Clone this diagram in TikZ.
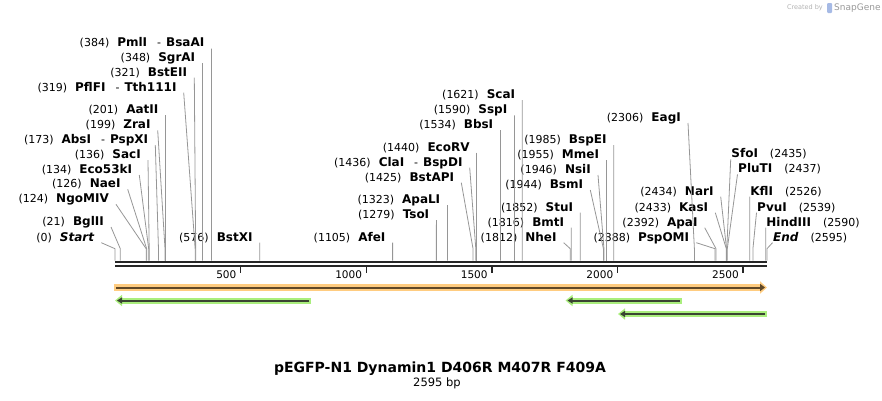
\documentclass[tikz,border=0pt]{standalone}
\usepackage{fontspec}
\setmainfont{DejaVu Sans}
\usetikzlibrary{arrows.meta}
\definecolor{cutgray}{RGB}{150,150,150}
\definecolor{bbone}{RGB}{38,38,38}
\definecolor{orgband}{RGB}{255,204,128}
\definecolor{orgline}{RGB}{96,72,40}
\definecolor{grnband}{RGB}{170,238,125}
\definecolor{grnline}{RGB}{58,68,50}
\newcommand{\enz}[1]{{\fontsize{12}{14}\selectfont\bfseries #1}}

\begin{document}
\begin{tikzpicture}[x=1pt,y=-1pt,font=\fontsize{11}{13}\selectfont,
  lab/.style={anchor=south east,inner xsep=7pt,inner ysep=1.5pt,text height=9pt,text depth=0pt},
  rlab/.style={anchor=south west,inner xsep=0.5pt,inner ysep=1.5pt,text height=9pt,text depth=0pt},
  cutln/.style={cutgray,line width=0.8pt},
  ticklab/.style={anchor=east,inner sep=0pt,font=\fontsize{10.5}{12}\selectfont},
  tickmk/.style={bbone,line width=1.5pt}]
\useasboundingbox (0,0) rectangle (882,400);

% backbone and scale
\draw[bbone,line width=2pt] (115,261.7) -- (767,261.7);
\draw[bbone,line width=2pt] (115,266) -- (767,266);
\draw[tickmk] (240.6,266) -- (240.6,273);
\draw[tickmk] (366.3,266) -- (366.3,273);
\draw[tickmk] (491.9,266) -- (491.9,273);
\draw[tickmk] (617.5,266) -- (617.5,273);
\draw[tickmk] (743.1,266) -- (743.1,273);
\node[ticklab] (t500) at (236.5,275) {500};
\node[ticklab] (t1000) at (362.2,275) {1000};
\node[ticklab] (t1500) at (487.8,275) {1500};
\node[ticklab] (t2000) at (613.4,275) {2000};
\node[ticklab] (t2500) at (739,275) {2500};

% features
\draw[orgband,line width=7pt,-{Triangle[length=7pt,width=12pt]}] (114,287.5) -- (767,287.5);
\draw[orgline,line width=2pt,-{Triangle[length=5pt,width=7pt]}] (116,287.5) -- (765,287.5);
\draw[grnband,line width=6pt,-{Triangle[length=7pt,width=11pt]}] (311,300.5) -- (115,300.5);
\draw[grnline,line width=2pt,-{Triangle[length=5pt,width=6pt]}] (309,300.5) -- (117,300.5);
\draw[grnband,line width=6pt,-{Triangle[length=7pt,width=11pt]}] (681.5,300.5) -- (565.5,300.5);
\draw[grnline,line width=2pt,-{Triangle[length=5pt,width=6pt]}] (679.5,300.5) -- (567.5,300.5);
\draw[grnband,line width=6pt,-{Triangle[length=7pt,width=11pt]}] (767,314) -- (618,314);
\draw[grnline,line width=2pt,-{Triangle[length=5pt,width=6pt]}] (765,314) -- (620,314);

% sites on the backbone
\coordinate (s0) at (115,260.7);
\coordinate (s21) at (120.28,260.7);
\coordinate (s124) at (146.16,260.7);
\coordinate (s126) at (146.66,260.7);
\coordinate (s134) at (148.67,260.7);
\coordinate (s136) at (149.17,260.7);
\coordinate (s173) at (158.47,260.7);
\coordinate (s199) at (165,260.7);
\coordinate (s201) at (165.5,260.7);
\coordinate (s319) at (195.15,260.7);
\coordinate (s321) at (195.65,260.7);
\coordinate (s348) at (202.44,260.7);
\coordinate (s384) at (211.48,260.7);
\coordinate (s576) at (259.72,260.7);
\coordinate (s1105) at (392.63,260.7);
\coordinate (s1279) at (436.35,260.7);
\coordinate (s1323) at (447.41,260.7);
\coordinate (s1425) at (473.03,260.7);
\coordinate (s1436) at (475.8,260.7);
\coordinate (s1440) at (476.8,260.7);
\coordinate (s1534) at (500.42,260.7);
\coordinate (s1590) at (514.49,260.7);
\coordinate (s1621) at (522.28,260.7);
\coordinate (s1812) at (570.27,260.7);
\coordinate (s1816) at (571.27,260.7);
\coordinate (s1852) at (580.32,260.7);
\coordinate (s1944) at (603.43,260.7);
\coordinate (s1946) at (603.94,260.7);
\coordinate (s1955) at (606.2,260.7);
\coordinate (s1985) at (613.74,260.7);
\coordinate (s2306) at (694.39,260.7);
\coordinate (s2388) at (714.99,260.7);
\coordinate (s2392) at (716,260.7);
\coordinate (s2433) at (726.3,260.7);
\coordinate (s2434) at (726.55,260.7);
\coordinate (s2435) at (726.8,260.7);
\coordinate (s2437) at (727.3,260.7);
\coordinate (s2526) at (749.66,260.7);
\coordinate (s2539) at (752.93,260.7);
\coordinate (s2590) at (765.74,260.7);
\coordinate (s2595) at (767,260.7);

% enzyme labels
\node[lab] (pmli) at (211.5,48.5) {(384)\hspace{8pt}\enz{PmlI}\hspace{10pt}-\hspace{5pt}\enz{BsaAI}};
\node[lab] (sgrai) at (202.4,63) {(348)\hspace{8pt}\enz{SgrAI}};
\node[lab] (bsteii) at (194.3,77.7) {(321)\hspace{8pt}\enz{BstEII}};
\node[lab] (pflfi) at (183.7,92.7) {(319)\hspace{8pt}\enz{PflFI}\hspace{10pt}-\hspace{5pt}\enz{Tth111I}};
\node[lab] (aatii) at (165.5,115) {(201)\hspace{8pt}\enz{AatII}};
\node[lab] (zrai) at (157.7,130.3) {(199)\hspace{8pt}\enz{ZraI}};
\node[lab] (absi) at (155.3,145) {(173)\hspace{8pt}\enz{AbsI}\hspace{10pt}-\hspace{5pt}\enz{PspXI}};
\node[lab] (saci) at (148,160) {(136)\hspace{8pt}\enz{SacI}};
\node[lab] (eco53ki) at (139.3,175) {(134)\hspace{8pt}\enz{Eco53kI}};
\node[lab] (naei) at (127.7,189.3) {(126)\hspace{8pt}\enz{NaeI}};
\node[lab] (ngomiv) at (116,204.3) {(124)\hspace{8pt}\enz{NgoMIV}};
\node[lab] (bglii) at (111,227) {(21)\hspace{8pt}\enz{BglII}};
\node[lab] (start) at (101.3,242.7) {(0)\hspace{8pt}\enz{\itshape Start}};
\node[lab] (bstxi) at (259.7,242.7) {(576)\hspace{8pt}\enz{BstXI}};
\node[lab] (afei) at (392.6,242.7) {(1105)\hspace{8pt}\enz{AfeI}};
\node[lab] (tsoi) at (436.4,220) {(1279)\hspace{8pt}\enz{TsoI}};
\node[lab] (apali) at (447.4,205) {(1323)\hspace{8pt}\enz{ApaLI}};
\node[lab] (bstapi) at (461.3,182.7) {(1425)\hspace{8pt}\enz{BstAPI}};
\node[lab] (clai) at (469.7,167.7) {(1436)\hspace{8pt}\enz{ClaI}\hspace{10pt}-\hspace{5pt}\enz{BspDI}};
\node[lab] (ecorv) at (476.8,152.7) {(1440)\hspace{8pt}\enz{EcoRV}};
\node[lab] (bbsi) at (500.4,130) {(1534)\hspace{8pt}\enz{BbsI}};
\node[lab] (sspi) at (514.5,115.3) {(1590)\hspace{8pt}\enz{SspI}};
\node[lab] (scai) at (522.3,100) {(1621)\hspace{8pt}\enz{ScaI}};
\node[lab] (nhei) at (563.7,242.7) {(1812)\hspace{8pt}\enz{NheI}};
\node[lab] (bmti) at (571.3,227.7) {(1816)\hspace{8pt}\enz{BmtI}};
\node[lab] (stui) at (580.3,212.7) {(1852)\hspace{8pt}\enz{StuI}};
\node[lab] (bsmi) at (590.3,190) {(1944)\hspace{8pt}\enz{BsmI}};
\node[lab] (nsii) at (598,175) {(1946)\hspace{8pt}\enz{NsiI}};
\node[lab] (mmei) at (606.2,160) {(1955)\hspace{8pt}\enz{MmeI}};
\node[lab] (bspei) at (613.7,145) {(1985)\hspace{8pt}\enz{BspEI}};
\node[lab] (eagi) at (688,123) {(2306)\hspace{8pt}\enz{EagI}};
\node[lab] (pspomi) at (696.3,242.7) {(2388)\hspace{8pt}\enz{PspOMI}};
\node[lab] (apai) at (704.7,227.7) {(2392)\hspace{8pt}\enz{ApaI}};
\node[lab] (kasi) at (715.3,212.7) {(2433)\hspace{8pt}\enz{KasI}};
\node[lab] (nari) at (720.7,196.7) {(2434)\hspace{8pt}\enz{NarI}};
\node[rlab] (sfoi) at (730.7,159.3) {\enz{SfoI}\hspace{12pt}(2435)};
\node[rlab] (pluti) at (737.5,174.3) {\enz{PluTI}\hspace{12pt}(2437)};
\node[rlab] (kfli) at (749.7,196.7) {\enz{KflI}\hspace{12pt}(2526)};
\node[rlab] (pvui) at (756.5,212.7) {\enz{PvuI}\hspace{12pt}(2539)};
\node[rlab] (hindiii) at (765.7,227.7) {\enz{HindIII}\hspace{12pt}(2590)};
\node[rlab] (finish) at (772.5,242.7) {\enz{\itshape End}\hspace{12pt}(2595)};

% label lines
\draw[cutln] (pmli.south east) -- ([yshift=12pt]s384) -- (s384);
\draw[cutln] (sgrai.south east) -- ([yshift=12pt]s348) -- (s348);
\draw[cutln] (bsteii.south east) -- ([yshift=12pt]s321) -- (s321);
\draw[cutln] (pflfi.south east) -- ([yshift=12pt]s319) -- (s319);
\draw[cutln] (aatii.south east) -- ([yshift=12pt]s201) -- (s201);
\draw[cutln] (zrai.south east) -- ([yshift=12pt]s199) -- (s199);
\draw[cutln] (absi.south east) -- ([yshift=12pt]s173) -- (s173);
\draw[cutln] (saci.south east) -- ([yshift=12pt]s136) -- (s136);
\draw[cutln] (eco53ki.south east) -- ([yshift=12pt]s134) -- (s134);
\draw[cutln] (naei.south east) -- ([yshift=12pt]s126) -- (s126);
\draw[cutln] (ngomiv.south east) -- ([yshift=12pt]s124) -- (s124);
\draw[cutln] (bglii.south east) -- ([yshift=12pt]s21) -- (s21);
\draw[cutln] (start.south east) -- ([yshift=12pt]s0) -- (s0);
\draw[cutln] (bstxi.south east) -- ([yshift=12pt]s576) -- (s576);
\draw[cutln] (afei.south east) -- ([yshift=12pt]s1105) -- (s1105);
\draw[cutln] (tsoi.south east) -- ([yshift=12pt]s1279) -- (s1279);
\draw[cutln] (apali.south east) -- ([yshift=12pt]s1323) -- (s1323);
\draw[cutln] (bstapi.south east) -- ([yshift=12pt]s1425) -- (s1425);
\draw[cutln] (clai.south east) -- ([yshift=12pt]s1436) -- (s1436);
\draw[cutln] (ecorv.south east) -- ([yshift=12pt]s1440) -- (s1440);
\draw[cutln] (bbsi.south east) -- ([yshift=12pt]s1534) -- (s1534);
\draw[cutln] (sspi.south east) -- ([yshift=12pt]s1590) -- (s1590);
\draw[cutln] (scai.south east) -- ([yshift=12pt]s1621) -- (s1621);
\draw[cutln] (nhei.south east) -- ([yshift=12pt]s1812) -- (s1812);
\draw[cutln] (bmti.south east) -- ([yshift=12pt]s1816) -- (s1816);
\draw[cutln] (stui.south east) -- ([yshift=12pt]s1852) -- (s1852);
\draw[cutln] (bsmi.south east) -- ([yshift=12pt]s1944) -- (s1944);
\draw[cutln] (nsii.south east) -- ([yshift=12pt]s1946) -- (s1946);
\draw[cutln] (mmei.south east) -- ([yshift=12pt]s1955) -- (s1955);
\draw[cutln] (bspei.south east) -- ([yshift=12pt]s1985) -- (s1985);
\draw[cutln] (eagi.south east) -- ([yshift=12pt]s2306) -- (s2306);
\draw[cutln] (pspomi.south east) -- ([yshift=12pt]s2388) -- (s2388);
\draw[cutln] (apai.south east) -- ([yshift=12pt]s2392) -- (s2392);
\draw[cutln] (kasi.south east) -- ([yshift=12pt]s2433) -- (s2433);
\draw[cutln] (nari.south east) -- ([yshift=12pt]s2434) -- (s2434);
\draw[cutln] (sfoi.south west) -- ([yshift=12pt]s2435) -- (s2435);
\draw[cutln] (pluti.south west) -- ([yshift=12pt]s2437) -- (s2437);
\draw[cutln] (kfli.south west) -- ([yshift=12pt]s2526) -- (s2526);
\draw[cutln] (pvui.south west) -- ([yshift=12pt]s2539) -- (s2539);
\draw[cutln] (hindiii.south west) -- ([yshift=12pt]s2590) -- (s2590);
\draw[cutln] (finish.south west) -- ([yshift=12pt]s2595) -- (s2595);

% title
\node (title) at (440,369) {\fontsize{14}{16}\selectfont\bfseries pEGFP-N1 Dynamin1 D406R M407R F409A};
\node (size) at (437,383) {\fontsize{11.5}{13}\selectfont 2595 bp};

% watermark
\node[anchor=east,inner sep=0pt,text=black!30] (made) at (823,8) {\fontsize{6.5}{8}\selectfont Created by};
\fill[cyan!45!blue!35,rounded corners=1pt] (827,3) rectangle (832,13);
\node[anchor=west,inner sep=0pt,text=black!40] (sg) at (834,8) {\fontsize{9}{10}\selectfont SnapGene};
\end{tikzpicture}
\end{document}
